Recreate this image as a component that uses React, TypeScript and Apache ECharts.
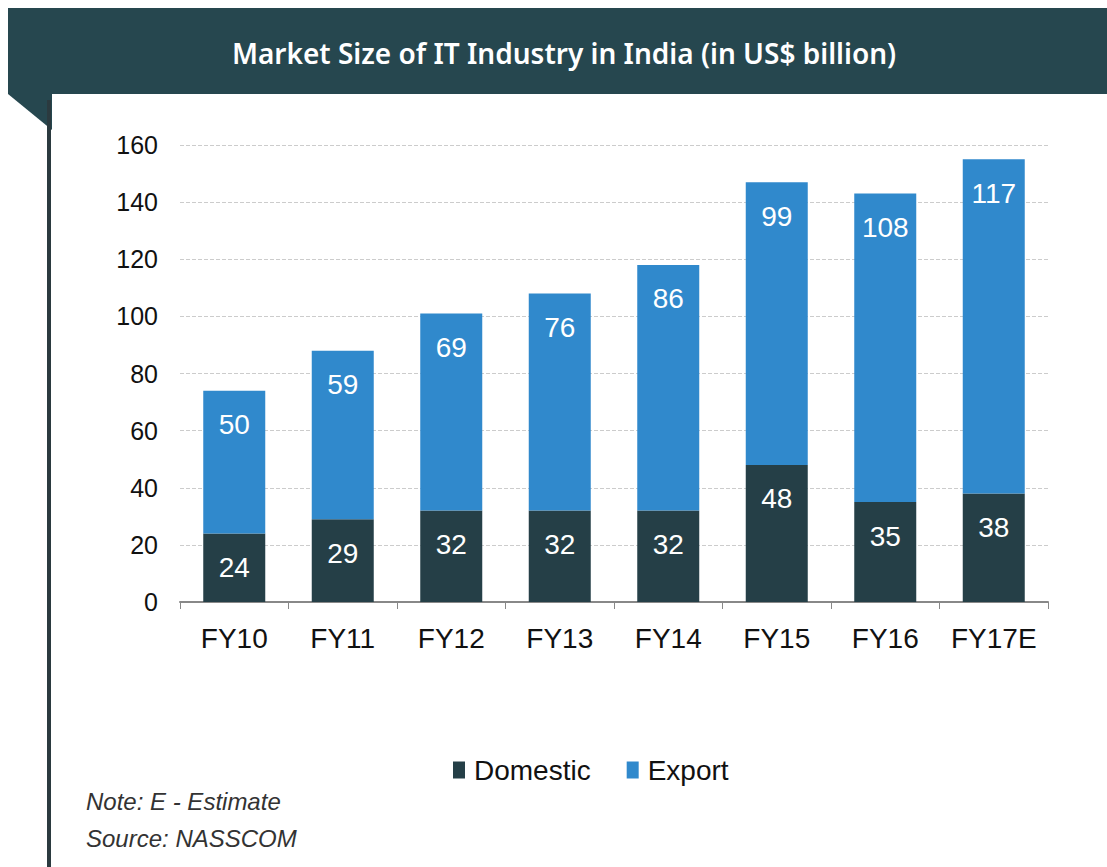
import React, { useEffect, useRef } from "react";
import * as echarts from "echarts";

const categories = ["FY10", "FY11", "FY12", "FY13", "FY14", "FY15", "FY16", "FY17E"];
const domestic = [24, 29, 32, 32, 32, 48, 35, 38];
const exportVals = [50, 59, 69, 76, 86, 99, 108, 117];
const titleText = "Market Size of IT Industry in India (in US$ billion)";
const noteLines = ["Note: E - Estimate", "Source: NASSCOM"];

export default function App() {
  const ref = useRef<HTMLDivElement>(null);
  useEffect(() => {
    if (!ref.current) return;
    const chart = echarts.init(ref.current, null, { renderer: "svg" });
    const labelStyle = {
      show: true,
      position: "insideTop" as const,
      distance: 20,
      color: "#ffffff",
      fontSize: 28,
      fontFamily: "Liberation Sans, Arial, sans-serif",
    };
    chart.setOption({
      animation: false,
      backgroundColor: "#ffffff",
      graphic: [
        { type: "rect", shape: { x: 8, y: 8, width: 1099, height: 86 }, style: { fill: "#26474f" } },
        { type: "polygon", shape: { points: [[8, 94], [52, 94], [52, 130]] }, style: { fill: "#26474f" } },
        { type: "rect", shape: { x: 47, y: 100, width: 4, height: 767 }, style: { fill: "#2b3a3f" } },
        {
          type: "text",
          x: 564,
          y: 53,
          style: {
            text: titleText,
            fill: "#ffffff",
            font: "600 28px 'Noto Sans', sans-serif",
            align: "center",
            verticalAlign: "middle",
          },
        },
        {
          type: "text",
          x: 86,
          y: 801,
          style: {
            text: noteLines[0],
            fill: "#333333",
            font: "italic 24px 'Liberation Sans', Arial, sans-serif",
            verticalAlign: "middle",
          },
        },
        {
          type: "text",
          x: 86,
          y: 838,
          style: {
            text: noteLines[1],
            fill: "#333333",
            font: "italic 24px 'Liberation Sans', Arial, sans-serif",
            verticalAlign: "middle",
          },
        },
      ],
      legend: {
        data: ["Domestic", "Export"],
        left: 448,
        top: 751,
        icon: "rect",
        itemWidth: 12,
        itemHeight: 17,
        itemGap: 36,
        textStyle: { fontSize: 28, color: "#111", fontFamily: "Liberation Sans, Arial, sans-serif", padding: [0, 0, 0, 4] },
      },
      grid: { left: 180, right: 59, top: 145, bottom: 265 },
      xAxis: {
        type: "category",
        data: categories,
        axisLine: { lineStyle: { color: "#888888", width: 2 } },
        axisTick: { show: true, length: 7, lineStyle: { color: "#888888" } },
        axisLabel: { interval: 0, fontSize: 28, color: "#111", margin: 22, fontFamily: "Liberation Sans, Arial, sans-serif" },
      },
      yAxis: {
        type: "value",
        min: 0,
        max: 160,
        interval: 20,
        axisLine: { show: false },
        axisTick: { show: false },
        axisLabel: { fontSize: 25, color: "#111", margin: 22, fontFamily: "Liberation Sans, Arial, sans-serif" },
        splitLine: { lineStyle: { color: "#cccccc", type: "dashed", width: 1 } },
      },
      series: [
        {
          name: "Domestic",
          type: "bar",
          stack: "total",
          data: domestic,
          barWidth: 62,
          itemStyle: { color: "#253f47" },
          label: labelStyle,
        },
        {
          name: "Export",
          type: "bar",
          stack: "total",
          data: exportVals,
          barWidth: 62,
          itemStyle: { color: "#3089cc" },
          label: labelStyle,
        },
      ],
    });
    return () => chart.dispose();
  }, []);
  return <div ref={ref} style={{ position: "fixed", left: 0, top: 0, width: 1107, height: 867 }} />;
}
